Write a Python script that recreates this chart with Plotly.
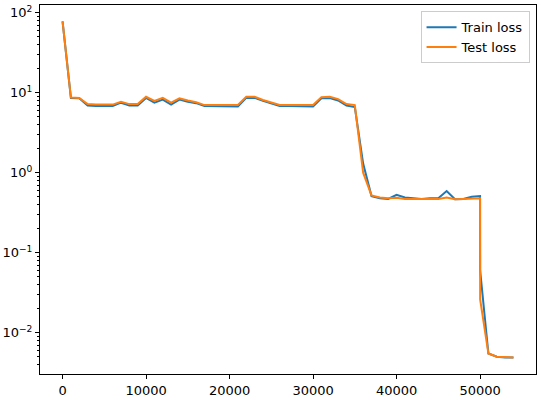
import plotly.graph_objects as go

steps = [0, 1000, 2000, 3000, 4000, 5000, 6000, 7000, 8000, 9000,
         10000, 11000, 12000, 13000, 14000, 15000, 16000, 17000, 18000, 19000,
         20000, 21000, 22000, 23000, 24000, 25000, 26000, 27000, 28000, 29000,
         30000, 31000, 32000, 33000, 34000, 35000, 36000, 37000, 38000, 39000,
         40000, 41000, 42000, 43000, 44000, 45000, 46000, 47000, 48000, 49000,
         50000, 50010, 51000, 52000, 53000, 54000]

train_loss = [78, 8.6, 8.5, 6.9, 6.8, 6.8, 6.8, 7.5, 6.9, 6.9,
              8.6, 7.5, 8.2, 7.1, 8.2, 7.7, 7.4, 6.8, 6.8, 6.8,
              6.8, 6.7, 8.6, 8.6, 7.9, 7.3, 6.8, 6.8, 6.8, 6.8,
              6.7, 8.5, 8.6, 8.0, 6.9, 6.6, 1.3, 0.51, 0.48, 0.47,
              0.53, 0.49, 0.48, 0.47, 0.48, 0.48, 0.59, 0.465, 0.47, 0.50,
              0.51, 0.06, 0.0055, 0.0050, 0.0049, 0.0049]

test_loss = [78, 8.7, 8.6, 7.2, 7.1, 7.1, 7.1, 7.7, 7.2, 7.2,
             8.9, 7.9, 8.6, 7.5, 8.5, 8.0, 7.6, 7.0, 7.0, 7.0,
             7.0, 7.0, 8.9, 8.9, 8.1, 7.6, 7.0, 7.0, 7.0, 7.0,
             7.0, 8.8, 8.9, 8.3, 7.2, 7.0, 1.0, 0.52, 0.49, 0.48,
             0.485, 0.47, 0.47, 0.47, 0.47, 0.47, 0.49, 0.465, 0.47, 0.48,
             0.48, 0.026, 0.0055, 0.0050, 0.0049, 0.0049]

x_ticks = [0, 10000, 20000, 30000, 40000, 50000]
x_tick_labels = ["0", "10000", "20000", "30000", "40000", "50000"]
y_ticks = [1e-2, 1e-1, 1e0, 1e1, 1e2]
y_tick_labels = ["10<sup>−2</sup>", "10<sup>−1</sup>", "10<sup>0</sup>", "10<sup>1</sup>", "10<sup>2</sup>"]

minor_vals = [m * 10 ** e for e in range(-3, 3) for m in range(2, 10)]

fig = go.Figure()
fig.add_trace(go.Scatter(x=steps, y=train_loss, mode="lines", name="Train loss",
                         line=dict(color="#1f77b4", width=2)))
fig.add_trace(go.Scatter(x=steps, y=test_loss, mode="lines", name="Test loss",
                         line=dict(color="#ff7f0e", width=2)))

font = dict(family="DejaVu Sans", size=13, color="black")
fig.update_layout(
    width=546, height=403,
    margin=dict(l=40, r=10, t=5, b=29, autoexpand=False),
    paper_bgcolor="white", plot_bgcolor="white",
    font=font,
    showlegend=True,
    legend=dict(x=0.987, y=0.983, xanchor="right", yanchor="top",
                bgcolor="rgba(255,255,255,0.8)", bordercolor="#cccccc", borderwidth=1,
                font=font, itemwidth=30, tracegroupgap=0),
)
fig.update_xaxes(range=[-2700, 56700], tickvals=x_ticks, ticktext=x_tick_labels,
                 ticks="outside", ticklen=4, automargin=False,
                 tickcolor="black", showline=True, linecolor="black", linewidth=1,
                 mirror=True, showgrid=False, zeroline=False)
fig.update_yaxes(type="log", range=[-2.516, 2.096], tickvals=y_ticks, ticktext=y_tick_labels,
                 ticks="outside", ticklen=4, tickcolor="black", showline=True, automargin=False,
                 linecolor="black", linewidth=1, mirror=True, showgrid=False, zeroline=False,
                 minor=dict(tickvals=minor_vals, ticks="outside", ticklen=2, tickcolor="black",
                            showgrid=False))

fig.write_html("out.html", config={"displayModeBar": False},
               post_script="document.body.style.margin='0';document.body.style.overflow='hidden';")
